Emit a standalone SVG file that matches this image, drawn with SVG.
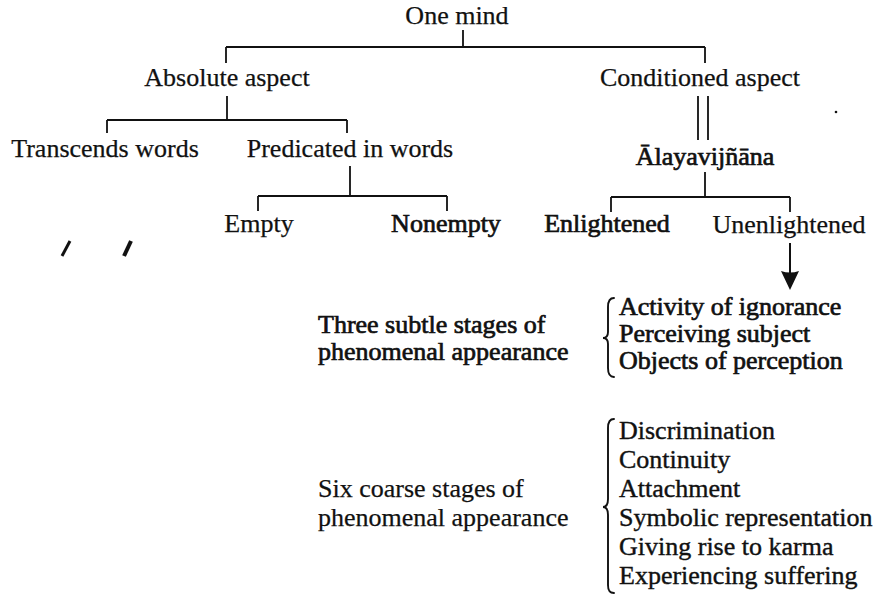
<svg xmlns="http://www.w3.org/2000/svg" width="890" height="596" viewBox="0 0 890 596">
<defs>
<style>
text{font-family:"Liberation Serif","Times New Roman",serif;font-size:26px;fill:#111;stroke:#111;stroke-width:0.25}
.c{text-anchor:middle}
.h{stroke-width:0.7}
.m{stroke-width:0.4}
.ln{fill:none;stroke:#111;stroke-width:1.8}
.br{fill:none;stroke:#111;stroke-width:1.9;stroke-linecap:round}
</style>
</defs>
<rect width="890" height="596" fill="#fff"/>

<g id="connectors">
<path class="ln" d="M463,30 V47 M226,47 H705 M226,47 V63 M705,47 V63"/>
<path class="ln" d="M227,96 V120 M107,120 H347 M107,120 V133 M347,120 V133"/>
<path class="ln" d="M698,96 V140 M708,96 V140"/>
<path class="ln" d="M350,166 V196 M258,196 H447 M258,196 V211 M447,196 V211"/>
<path class="ln" d="M705,172 V197 M611,197 H790 M611,197 V212 M790,197 V212"/>
<path d="M790,243 V273" fill="none" stroke="#111" stroke-width="2"/>
<path d="M781,271 Q790,274 799,271 L790,290 Z" fill="#111"/>
</g>

<g id="one-mind"><text class="c" x="457" y="24">One mind</text></g>
<g id="absolute-aspect"><text class="c" x="227" y="86">Absolute aspect</text></g>
<g id="conditioned-aspect"><text class="c" x="700" y="86">Conditioned aspect</text></g>
<g id="transcends-words"><text class="c" x="105" y="157">Transcends words</text></g>
<g id="predicated-in-words"><text class="c" x="350" y="157">Predicated in words</text></g>
<g id="alayavijnana"><text class="c h" x="705" y="165">Ālayavijñāna</text></g>
<g id="empty"><text class="c" x="259" y="232">Empty</text></g>
<g id="nonempty"><text class="c h" x="446" y="232">Nonempty</text></g>
<g id="enlightened"><text class="c h" x="607" y="232">Enlightened</text></g>
<g id="unenlightened"><text class="c" x="789" y="233">Unenlightened</text></g>

<g id="three-subtle">
<text class="h" x="318" y="333">Three subtle stages of</text>
<text class="h" x="318" y="360">phenomenal appearance</text>
<path class="br" d="M614,298 C609,298 608,302 608,307 L608,332 C608,336 606,338 603,338 C606,338 608,340 608,344 L608,368 C608,373 609,377 614,377"/>
<text class="h" x="619" y="315">Activity of ignorance</text>
<text class="h" x="619" y="342">Perceiving subject</text>
<text class="h" x="619" y="369">Objects of perception</text>
</g>

<g id="six-coarse">
<text x="318" y="497">Six coarse stages of</text>
<text x="318" y="526">phenomenal appearance</text>
<path class="br" d="M614,419 C609,419 608,423 608,428 L608,499 C608,504 606,507 603,507 C606,507 608,510 608,515 L608,585 C608,590 609,593 614,593"/>
<text class="m" x="619" y="439">Discrimination</text>
<text class="m" x="619" y="468">Continuity</text>
<text class="m" x="619" y="497">Attachment</text>
<text class="m" x="619" y="526">Symbolic representation</text>
<text class="m" x="619" y="555">Giving rise to karma</text>
<text class="m" x="619" y="584">Experiencing suffering</text>
</g>

<g id="marks">
<path d="M62,256 L70,241" stroke="#111" stroke-width="3" fill="none"/>
<path d="M124,256 L131,241" stroke="#111" stroke-width="4" fill="none"/>
<circle cx="836" cy="112" r="1.3" fill="#111"/>
</g>
</svg>
